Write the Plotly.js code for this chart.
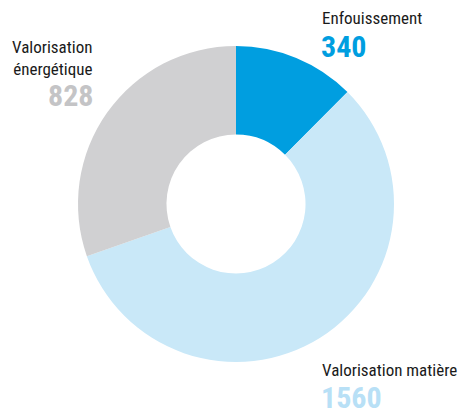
<!DOCTYPE html>
<html><head><meta charset="utf-8">
<script src="https://cdn.plot.ly/plotly-3.0.1.min.js"></script>
<style>html,body{margin:0;padding:0;background:#fff}</style>
</head><body>
<div id="chart" style="width:460px;height:413px"></div>
<script>
const categories = ["Enfouissement", "Valorisation matière", "Valorisation énergétique"];
const values = [340, 1560, 828];
const colors = ["#009EE0", "#C9E8F8", "#D0D0D2"];
const numColors = ["#009EE0", "#B8E0F6", "#C4C4C6"];

const W = 460, H = 413;
const cx = 236, cy = 204, R = 158;
const FONT = "'Liberation Sans Narrow', 'Arial Narrow', 'Roboto Condensed', sans-serif";

const trace = {
  type: "pie",
  labels: categories,
  values: values,
  marker: {colors: colors, line: {width: 0}},
  hole: 0.44,
  sort: false,
  direction: "clockwise",
  rotation: 0,
  textinfo: "none",
  hoverinfo: "label+value",
  showlegend: false,
  domain: {x: [(cx - R) / W, (cx + R) / W], y: [1 - (cy + R) / H, 1 - (cy - R) / H]}
};

function px(x) { return x / W; }
function py(y) { return 1 - y / H; }

const LBL = 17, NUM = 30;
// numbers: fixed box height, centred on the glyphs
const annotations = [
  {text: "Enfouissement", x: px(321), y: py(7), xanchor: "left", yanchor: "top", font: {size: LBL, color: "#1a1a1a", family: FONT}},
  {text: "<b>" + values[0] + "</b>", x: px(320), y: py(33), xanchor: "left", yanchor: "top", height: 24, valign: "middle", font: {size: NUM, color: numColors[0], family: FONT}},
  {text: "Valorisation matière", x: px(321), y: py(359), xanchor: "left", yanchor: "top", font: {size: LBL, color: "#1a1a1a", family: FONT}},
  {text: "<b>" + values[1] + "</b>", x: px(320), y: py(384), xanchor: "left", yanchor: "top", height: 24, valign: "middle", font: {size: NUM, color: numColors[1], family: FONT}},
  {text: "Valorisation<br>énergétique", x: px(93), y: py(36), xanchor: "right", yanchor: "top", align: "right", font: {size: LBL, color: "#1a1a1a", family: FONT}},
  {text: "<b>" + values[2] + "</b>", x: px(94), y: py(82), xanchor: "right", yanchor: "top", height: 24, valign: "middle", font: {size: NUM, color: numColors[2], family: FONT}}
].map(a => Object.assign({xref: "paper", yref: "paper", showarrow: false, borderpad: 0}, a));

Plotly.newPlot("chart", [trace], {
  width: W, height: H,
  margin: {l: 0, r: 0, t: 0, b: 0},
  paper_bgcolor: "#fff",
  plot_bgcolor: "#fff",
  annotations: annotations
}, {displayModeBar: false, staticPlot: true});
</script>
</body></html>
